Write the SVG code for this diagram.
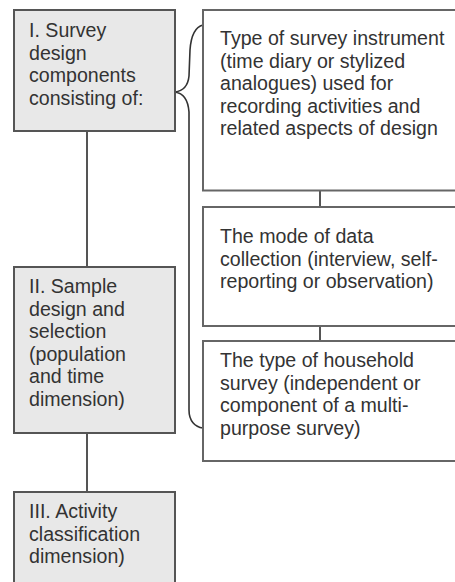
<svg xmlns="http://www.w3.org/2000/svg" width="455" height="582" viewBox="0 0 455 582">
<style>
.lb{fill:#e8e8e8;stroke:#555;stroke-width:2}
.rb{fill:#fff;stroke:#666;stroke-width:2}
.t{font-family:"Liberation Sans",Arial,sans-serif;font-size:19.6px;fill:#333}
.c{fill:none;stroke:#555;stroke-width:2}
.br{fill:none;stroke:#333;stroke-width:1.6}
</style>
<rect width="455" height="582" fill="#fff"/>
<g id="connectors">
<line class="c" x1="87" y1="131" x2="87" y2="267"/>
<line class="c" x1="87" y1="433" x2="87" y2="492"/>
<line class="c" x1="320" y1="190" x2="320" y2="207"/>
<line class="c" x1="320" y1="326" x2="320" y2="341"/>
<path class="br" d="M203,25 C195,27 191,36 190,50 L189,76 C188,86 183,91 175,92 C183,93 188,99 189,112 L189,410 C189,421 195,427 203,428"/>
</g>
<g id="n1">
<rect class="lb" x="14" y="10" width="161" height="121"/>
<text class="t" x="29" y="37">I. Survey</text>
<text class="t" x="29" y="59.5">design</text>
<text class="t" x="29" y="82">components</text>
<text class="t" x="29" y="104.5">consisting of:</text>
</g>
<g id="n2">
<rect class="lb" x="14" y="267" width="161" height="166"/>
<text class="t" x="29" y="293">II. Sample</text>
<text class="t" x="29" y="315.5">design and</text>
<text class="t" x="29" y="338">selection</text>
<text class="t" x="29" y="360.5">(population</text>
<text class="t" x="29" y="383">and time</text>
<text class="t" x="29" y="405.5">dimension)</text>
</g>
<g id="n3">
<rect class="lb" x="14" y="492" width="161" height="100"/>
<text class="t" x="29" y="518">III. Activity</text>
<text class="t" x="29" y="540.5">classification</text>
<text class="t" x="29" y="563">dimension)</text>
</g>
<g id="r1">
<rect class="rb" x="203" y="10" width="260" height="180.5"/>
<text class="t" x="220" y="45">Type of survey instrument</text>
<text class="t" x="220" y="67.5">(time diary or stylized</text>
<text class="t" x="220" y="90">analogues) used for</text>
<text class="t" x="220" y="112.5">recording activities and</text>
<text class="t" x="220" y="135">related aspects of design</text>
</g>
<g id="r2">
<rect class="rb" x="203" y="207" width="260" height="119"/>
<text class="t" x="220" y="243">The mode of data</text>
<text class="t" x="220" y="265.5">collection (interview, self-</text>
<text class="t" x="220" y="288">reporting or observation)</text>
</g>
<g id="r3">
<rect class="rb" x="203" y="341" width="260" height="120"/>
<text class="t" x="220" y="367">The type of household</text>
<text class="t" x="220" y="389.5">survey (independent or</text>
<text class="t" x="220" y="412">component of a multi-</text>
<text class="t" x="220" y="434.5">purpose survey)</text>
</g>
</svg>
